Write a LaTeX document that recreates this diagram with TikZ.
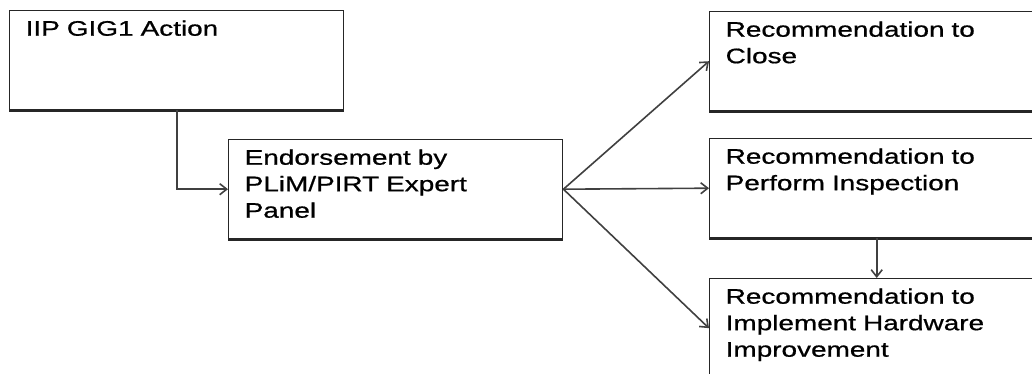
\documentclass[tikz,border=0pt]{standalone}
\usepackage{fontspec}
\newfontfamily\boxfont[FakeStretch=1.33,FakeBold=0.8]{Liberation Sans}
\usetikzlibrary{arrows.meta}

\begin{document}
\begin{tikzpicture}[x=1pt,y=-1pt,
    box/.style={draw=black!85, line width=1.4pt, anchor=north west,
        inner xsep=16pt, inner ysep=10pt, text width=302pt, align=left,
        text height=15pt, text depth=64pt,
        font=\boxfont\fontsize{21}{26.5}\selectfont},
    shadeline/.style={draw=black!85, line width=3.5pt},
    link/.style={draw=black!75, line width=1.6pt,
        -{Straight Barb[length=7pt,width=11pt]}}]
    % --- 1. 畫布大小 ---
    \useasboundingbox (0,0) rectangle (1032,374);

    % --- 2. 方框 ---
    \node[box] (act) at (9,10) {IIP GIG1 Action};
    \node[box] (endorse) at (228,139) {Endorsement by\\PLiM/PIRT Expert\\Panel};
    \node[box] (close) at (709,11) {Recommendation to\\Close};
    \node[box] (insp) at (709,138) {Recommendation to\\Perform Inspection};
    \node[box] (impl) at (709,278) {Recommendation to\\Implement Hardware\\Improvement};

    % --- 3. 底邊加粗 ---
    \foreach \b in {act,endorse,close,insp}
        \draw[shadeline] (\b.south west) -- (\b.south east);

    % --- 4. 箭頭 ---
    \draw[link] (act.south) |- (endorse.west);
    \foreach \t in {close,insp,impl}
        \draw[link] (endorse.east) -- (\t.west);
    \draw[link] (insp.south) -- (impl.north);
\end{tikzpicture}
\end{document}
